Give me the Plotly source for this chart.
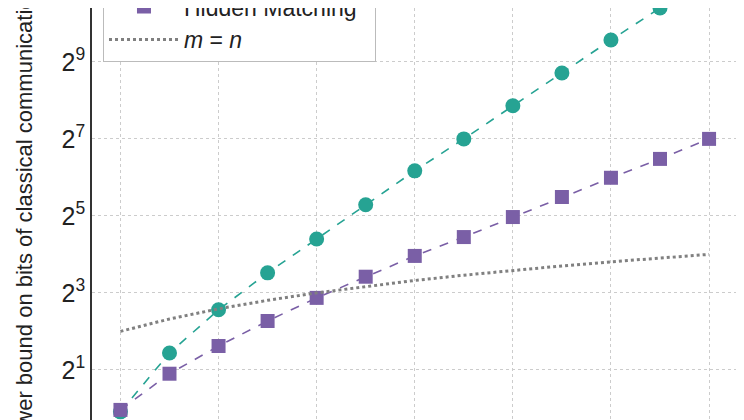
import numpy as np
import plotly.graph_objects as go

# data (y in log2 units converted back)
n_vals = list(range(4, 17))
teal_log2 = [-0.09, 1.44, 2.56, 3.52, 4.4, 5.29, 6.17, 7.0, 7.86, 8.71, 9.57, 10.4, 11.26]
hm_log2 = [-0.04, 0.9, 1.62, 2.27, 2.87, 3.42, 3.96, 4.45, 4.97, 5.49, 5.99, 6.48, 7.0]
teal_vals = [2 ** v for v in teal_log2]
hm_vals = [2 ** v for v in hm_log2]
mn_vals = n_vals

fig = go.Figure()
fig.add_trace(go.Scatter(x=n_vals, y=teal_vals, name="Quantum Protocol", mode="lines+markers",
                         line=dict(color="#26a393", width=1.6, dash="dash"),
                         marker=dict(symbol="circle", size=15, color="#26a393")))
fig.add_trace(go.Scatter(x=n_vals, y=hm_vals, name="Hidden Matching", mode="lines+markers",
                         line=dict(color="#7a5fa6", width=1.6, dash="dash"),
                         marker=dict(symbol="square", size=14, color="#7a5fa6")))
fig.add_trace(go.Scatter(x=n_vals, y=mn_vals, name="<i>m</i> = <i>n</i>", mode="lines",
                         line=dict(color="#808080", width=3, dash="dot")))

ticks = [2, 8, 32, 128, 512]
fig.update_xaxes(range=[3.42, 16.59], tickvals=[4, 6, 8, 10, 12, 14, 16], showticklabels=False,
                 showgrid=True, gridcolor="#cccccc", griddash="dot", gridwidth=1,
                 showline=True, linecolor="#333333", linewidth=1.5, mirror=True, zeroline=False)
fig.update_yaxes(type="log", range=[-0.51 * np.log10(2), 10.4 * np.log10(2)],
                 tickvals=ticks, ticktext=["2<sup>1</sup>", "2<sup>3</sup>", "2<sup>5</sup>", "2<sup>7</sup>", "2<sup>9</sup>"],
                 tickfont=dict(size=25, color="#222222"), ticks="",
                 showgrid=True, gridcolor="#cccccc", griddash="dot", gridwidth=1,
                 showline=True, linecolor="#333333", linewidth=1.5, mirror=True, zeroline=False)

fig.add_annotation(text="Lower bound on bits of classical communication", xref="paper", yref="paper",
                   x=-0.105, y=0.5, textangle=-90, showarrow=False,
                   font=dict(size=22, color="#222222"), xanchor="center", yanchor="middle")

fig.update_layout(
    width=744, height=420,
    margin=dict(l=84, r=14, t=0, b=0, autoexpand=False),
    plot_bgcolor="white", paper_bgcolor="white",
    font=dict(family="Liberation Sans, Arial", size=22, color="#222222"),
    legend=dict(x=0.017, y=0.871, xanchor="left", yanchor="bottom", bgcolor="white",
                bordercolor="#bbbbbb", borderwidth=1, font=dict(size=23),
                itemwidth=70, tracegroupgap=4),
)

fig.write_html("out.html")
